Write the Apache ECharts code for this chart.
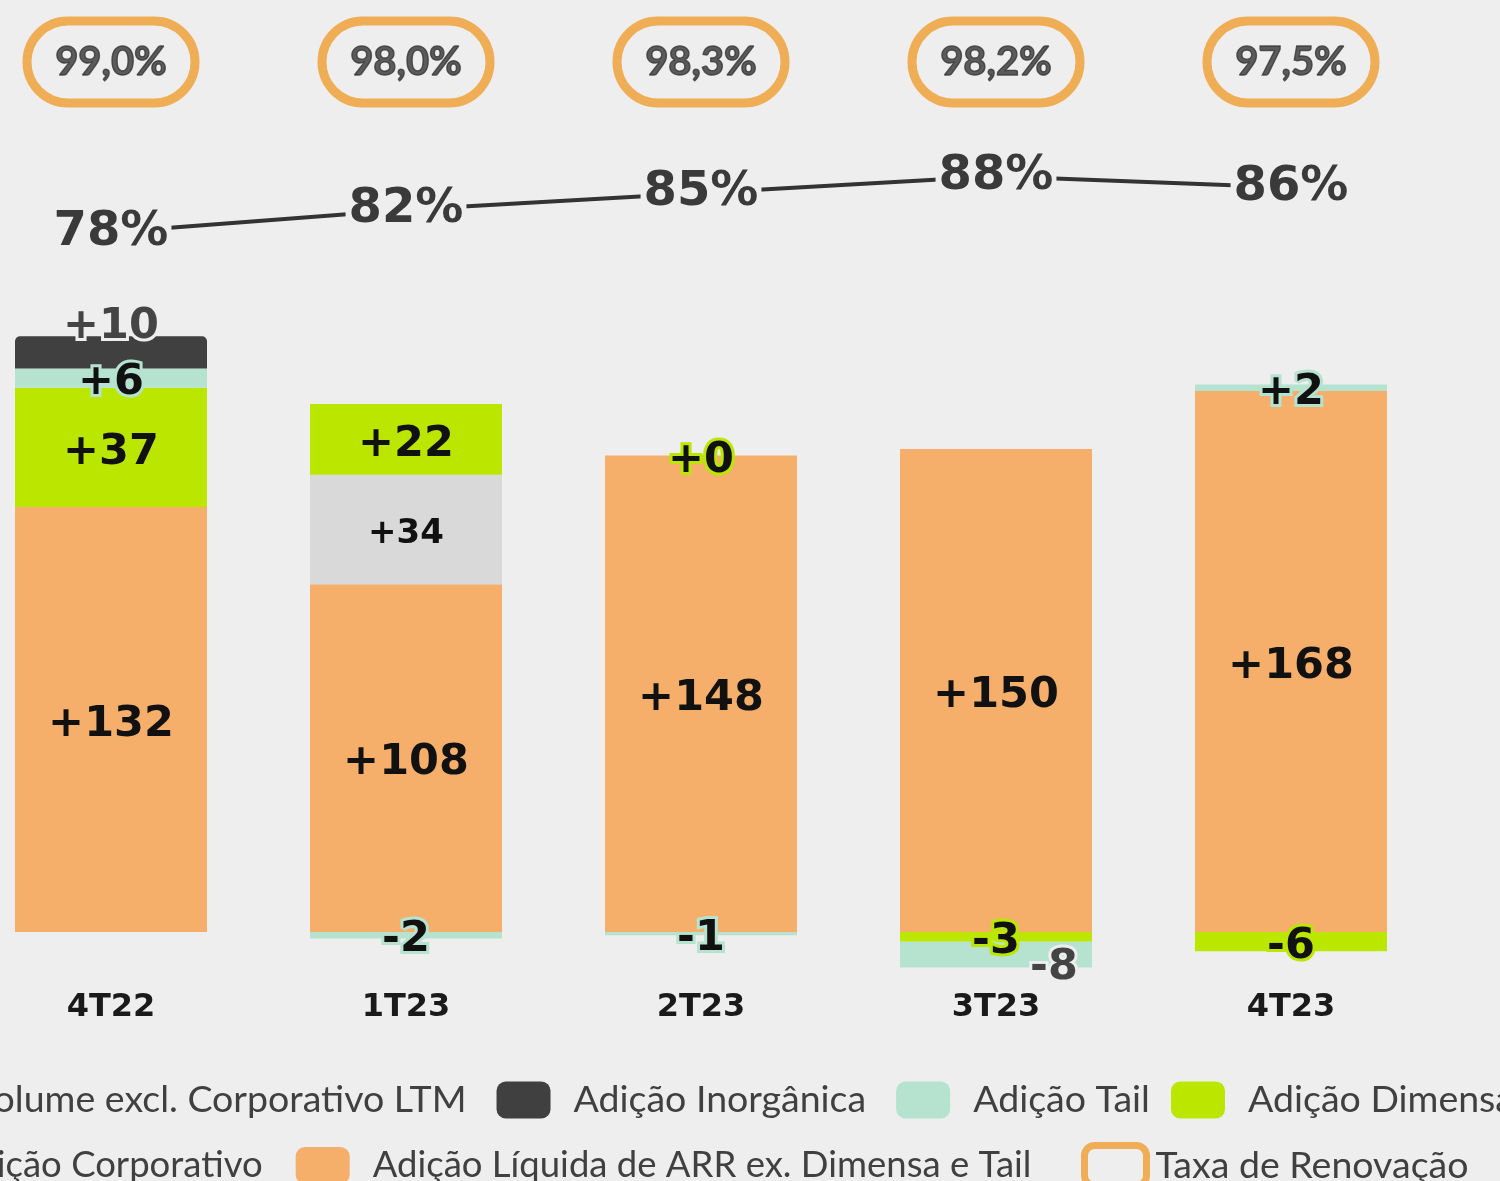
<!DOCTYPE html>
<html>
<head>
<meta charset="utf-8">
<script src="https://cdn.jsdelivr.net/npm/echarts@6/dist/echarts.min.js"></script>
<style>
  html, body { margin: 0; padding: 0; background: #eeeeee; overflow: hidden; }
  #chart { position: absolute; left: -37px; top: 0; width: 1537px; height: 1181px; }
</style>
</head>
<body>
<div id="chart"></div>
<script>
var categorias = ["4T22", "1T23", "2T23", "3T23", "4T23"]
var liquida = [132, 108, 148, 150, 168]
var corporativo = [null, 34, null, null, null]
var dimensa = [37, 22, 0, -3, -6]
var tail = [6, -2, -1, -8, 2]
var inorganica = [10, null, null, null, null]
var volumeLtm = [78, 82, 85, 88, 86]
var taxaRenovacao = [99.0, 98.0, 98.3, 98.2, 97.5]

var corLaranja = "#f5af6b",
    corVerde = "#bbe600",
    corTail = "#b6e2d0",
    corInorg = "#404040",
    corCorp = "#d9d9d9",
    corBorda = "#ef9d2f",
    fundo = "#eeeeee"

function sinal(p) {
    if (p.value == null) return ""
    return (p.value >= 0 ? "+" : "") + p.value
}

function rotulo(borda, extra) {
    return Object.assign({
        show: true,
        position: "inside",
        offset: [0, 5],
        formatter: sinal,
        fontFamily: "DejaVu Sans",
        fontWeight: "bold",
        fontSize: 43,
        color: "#111111",
        textBorderColor: borda,
        textBorderWidth: borda == "transparent" ? 0 : 6
    }, extra || {})
}

// o container começa 37px à esquerda da página
var gridLeft = 0.5, gridRight = 61.5
var legendaTexto = { fontFamily: "Lato", fontSize: 37.5, color: "#404040", padding: [0, 0, 0, 18] }
function legenda(extra) {
    return Object.assign({
        width: 2200,
        itemGap: 30,
        itemWidth: 54,
        itemHeight: 37,
        selectedMode: false,
        textStyle: legendaTexto
    }, extra)
}

var chart = echarts.init(document.getElementById("chart"))
chart.setOption({
    backgroundColor: fundo,
    animation: false,
    grid: [
        { left: gridLeft, right: gridRight, top: 288, bottom: 197.5 },
        { left: gridLeft, right: gridRight, top: 137, bottom: 904 },
        { left: gridLeft, right: gridRight, top: 0, bottom: 1057 }
    ],
    xAxis: [{
        type: "category",
        data: categorias,
        gridIndex: 0,
        axisLine: { show: false },
        axisTick: { show: false },
        axisLabel: {
            margin: 8,
            fontFamily: "DejaVu Sans",
            fontWeight: "bold",
            fontSize: 32,
            color: "#1a1a1a"
        }
    }, {
        type: "category", data: categorias, gridIndex: 1, show: false
    }, {
        type: "category", data: categorias, gridIndex: 2, show: false
    }],
    yAxis: [
        { type: "value", gridIndex: 0, min: -16, max: 200, show: false },
        { type: "value", gridIndex: 1, min: 70, max: 95, show: false },
        { type: "value", gridIndex: 2, min: -1, max: 1, show: false }
    ],
    legend: [
        legenda({ left: -75, top: 1076, data: ["Volume excl. Corporativo LTM", "Adição Inorgânica", "Adição Tail"] }),
        legenda({ left: 1203, top: 1076, data: ["Adição Dimensa"] }),
        legenda({
            left: -93, top: 1142, itemGap: 33,
            textStyle: Object.assign({}, legendaTexto, { fontSize: 36.5 }),
            data: ["Adição Corporativo", "Adição Líquida de ARR ex. Dimensa e Tail"]
        }),
        legenda({
            left: 1113, top: 1137, itemWidth: 62, itemHeight: 40,
            textStyle: Object.assign({}, legendaTexto, { padding: [0, 0, 0, 4] }),
            data: [{
                name: "Taxa de Renovação",
                icon: "roundRect",
                itemStyle: { color: "transparent", borderColor: corBorda, borderWidth: 7 }
            }]
        })
    ],
    series: [{
        name: "Adição Líquida de ARR ex. Dimensa e Tail",
        type: "bar",
        stack: "arr",
        barWidth: 192,
        itemStyle: { color: corLaranja },
        label: rotulo("transparent"),
        data: liquida
    }, {
        name: "Adição Corporativo",
        type: "bar",
        stack: "arr",
        itemStyle: { color: corCorp },
        label: rotulo("transparent", { fontSize: 34 }),
        data: corporativo
    }, {
        name: "Adição Dimensa",
        type: "bar",
        stack: "arr",
        itemStyle: { color: corVerde },
        label: rotulo(corVerde),
        data: dimensa
    }, {
        name: "Adição Tail",
        type: "bar",
        stack: "arr",
        itemStyle: { color: corTail },
        label: rotulo(corTail),
        data: tail.map(function (v, i) {
            if (i == 3) return { value: v, label: { offset: [58, 13], color: "#444444", textBorderColor: fundo } }
            return v
        })
    }, {
        name: "Adição Inorgânica",
        type: "bar",
        stack: "arr",
        itemStyle: { color: corInorg, borderRadius: [5, 5, 0, 0] },
        label: rotulo(fundo, { color: "#444444", offset: [0, -26] }),
        data: inorganica
    }, {
        name: "Volume excl. Corporativo LTM",
        type: "line",
        xAxisIndex: 1,
        yAxisIndex: 1,
        symbol: "circle",
        symbolSize: 1,
        clip: false,
        lineStyle: { color: "#333333", width: 4 },
        itemStyle: { color: "#333333" },
        label: {
            show: true,
            position: "inside",
            formatter: function (p) { return p.value + "%" },
            fontFamily: "DejaVu Sans",
            fontWeight: "bold",
            fontSize: 48,
            color: "#3a3a3a",
            backgroundColor: fundo,
            padding: [0, 3]
        },
        data: volumeLtm
    }, {
        name: "Taxa de Renovação",
        type: "scatter",
        xAxisIndex: 2,
        yAxisIndex: 2,
        symbolSize: 1,
        itemStyle: { color: "transparent" },
        label: {
            show: true,
            position: "inside",
            formatter: function (p) { return p.value[2].toFixed(1).replace(".", ",") + "%" },
            fontFamily: "Lato",
            fontWeight: "bold",
            fontSize: 40,
            color: "#363636",
            textBorderColor: "#363636",
            textBorderWidth: 1.4,
            width: 168,
            height: 82,
            lineHeight: 82,
            align: "center",
            verticalAlign: "middle",
            borderColor: corBorda,
            borderWidth: 9,
            borderRadius: 41
        },
        data: taxaRenovacao.map(function (v, i) { return [categorias[i], 0, v] })
    }]
})
</script>
</body>
</html>
